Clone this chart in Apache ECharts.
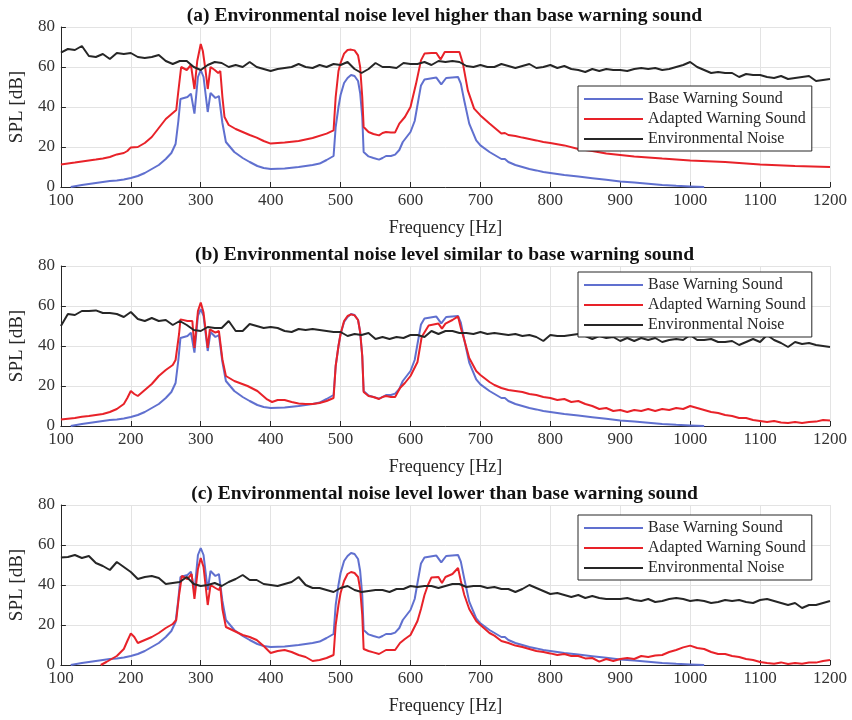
<!DOCTYPE html>
<html>
<head>
<meta charset="utf-8">
<script src="https://cdn.jsdelivr.net/npm/echarts@6/dist/echarts.min.js"></script>
<style>
  html, body { margin: 0; padding: 0; background: #fff; }
  #chart { width: 852px; height: 720px; }
</style>
</head>
<body>
<div id="chart"></div>
<script>
// panel titles
const titles = [
  '(a) Environmental noise level higher than base warning sound',
  '(b) Environmental noise level similar to base warning sound',
  '(c) Environmental noise level lower than base warning sound'
];
const legendNames = ['Base Warning Sound', 'Adapted Warning Sound', 'Environmental Noise'];

// base warning sound, same in every panel: [Hz, dB]
const base = [[114,0],[120,0.4],[130,1],[140,1.5],[150,2],[160,2.5],[170,3],[180,3.3],[190,3.8],[200,4.5],
  [210,5.5],[220,7],[230,9],[240,11],[250,14],[258,17],[264,21.5],[268,33],[271,44],[281,45],[286,46.7],
  [291,36.7],[296,55],[300,58.5],[304,55],[310,37.5],[314,47],[321,44.5],[326,45.5],[331,32],[336,22.5],
  [348,17.5],[360,14.5],[370,12.5],[381,10.5],[390,9.5],[400,9],[420,9.2],[440,10],[460,11],[470,11.7],
  [480,13.5],[490,15.5],[493,30],[497,40],[500,46],[505,52],[510,54.5],[515,56],[520,55.5],[525,53],
  [528,47],[531,35],[533,17.5],[540,15.3],[547,14.5],[555,13.7],[560,14.5],[565,15.5],[572,15.5],[578,16.2],
  [584,18.5],[589,22.5],[600,27.5],[606,33],[610,41],[615,50.8],[620,53.8],[637,54.7],[644,51.3],[651,54.5],
  [668,55],[672,51.7],[677,43],[684,31.7],[694,23.3],[700,20.8],[713,17.5],[730,14],[735,14],[740,12.5],
  [750,11],[760,10],[770,9],[780,8.3],[790,7.5],[800,7],[820,6],[840,5.2],[860,4.4],[880,3.6],[900,2.8],
  [920,2.2],[940,1.6],[960,1],[980,0.6],[1000,0.3],[1020,0]];

// adapted warning sound per panel: [Hz, dB]
const adaptedA = [[100,11.3],[110,11.8],[120,12.2],[130,12.7],[140,13.2],[150,13.7],[160,14.3],[170,15],
  [180,16.3],[190,17],[195,18],[200,19.8],[210,20],[220,22],[230,25],[240,29.5],[250,34],[260,37],[265,38.5],
  [268,48],[272,60],[280,58.5],[286,61],[291,49],[295,63],[300,71.5],[303,68],[307,58],[310,49],[314,60],
  [320,58.5],[325,57],[328,58],[331,45],[334,35],[340,31],[350,29],[360,27.5],[370,26],[380,24.7],[390,23],
  [400,21.7],[420,22.3],[440,23],[460,24.5],[480,26.7],[490,28.3],[493,45],[497,58],[500,62],[505,66.7],
  [510,68.5],[515,68.7],[520,68.3],[525,65.8],[528,60],[531,45],[533,30],[540,27.5],[547,26.5],[555,25.8],
  [560,27],[565,27.5],[572,27.3],[578,27.3],[584,31.7],[592,35],[600,40],[608,51.7],[615,63.3],[620,66.7],
  [630,67],[637,67],[643,63.8],[649,67.5],[660,67.5],[670,67.5],[675,61.7],[682,48.3],[691,39.2],[700,35.8],
  [713,31.7],[730,26.7],[735,27],[740,26],[750,25.5],[760,24.7],[770,24],[780,23.3],[790,22.5],[800,22],
  [820,20.8],[840,19],[860,18],[880,16.7],[900,16],[920,15.3],[940,14.8],[960,14.2],[980,13.8],[1000,13.3],
  [1050,12.5],[1100,11.3],[1150,10.5],[1200,10]];

const adaptedB = [[100,3.2],[110,3.6],[120,4],[130,4.6],[140,5],[150,5.5],[160,6],[170,7],[180,8.5],[190,11],
  [195,14],[200,17.5],[205,16],[210,15],[220,18],[230,21],[240,25],[250,28],[260,30.5],[264,33],[269,46],
  [271,53.3],[281,52.5],[288,52.5],[291,39],[296,57.5],[300,61.7],[304,56.7],[310,39],[313,48.3],[321,46.7],
  [326,47.5],[331,33.3],[336,25],[348,22.5],[367,20],[381,17.5],[395,13.3],[402,12],[410,13],[420,13],
  [430,12],[440,11.3],[450,11],[460,11],[470,11.5],[480,12.5],[490,14],[493,30],[497,40],[500,46],[505,52.5],
  [510,55],[515,55.8],[520,55.3],[525,53],[528,47],[531,35],[533,17],[540,15],[547,14.5],[555,13.5],[560,14.5],
  [565,15],[572,14.5],[578,14.5],[585,19],[592,21.5],[600,25],[610,32],[616,44.5],[626,50.3],[640,51.2],
  [645,48.7],[650,51.2],[660,53],[668,54.8],[672,49],[677,43],[684,34],[694,27.5],[700,25.5],[713,22],
  [720,20.5],[730,19],[740,18],[750,17.5],[760,17],[770,16],[780,15.5],[790,14.5],[800,14],[810,13],
  [820,13.5],[830,12],[840,12.5],[850,11],[860,10],[870,8.5],[880,9],[890,7.5],[900,8],[910,7],[920,8],
  [930,7.5],[940,8.5],[950,7.5],[960,8.5],[970,8],[980,9],[990,8.5],[1000,10],[1010,9],[1020,8],[1030,7],
  [1040,6.5],[1050,5.5],[1060,5],[1070,4],[1080,4],[1090,3],[1100,2.5],[1110,2],[1120,2.5],[1130,1.8],
  [1140,1.5],[1150,2],[1160,1.5],[1170,2],[1180,2.2],[1190,3],[1200,2.7]];

const adaptedC = [[157,0],[165,1.5],[170,2.5],[180,4.5],[190,8],[195,12],[200,15.8],[205,14],[210,11],
  [220,12.5],[230,14],[240,16],[250,18.5],[260,20.5],[265,22.5],[269,35],[273,44.5],[281,43],[287,45.5],
  [291,33],[296,48],[300,53.5],[304,49],[310,30],[314,40],[321,38.5],[326,37.5],[328,39],[331,28],[336,19],
  [348,17],[360,15],[370,14],[380,12.5],[390,9.5],[400,6],[410,7],[420,7.5],[430,6.5],[440,5],[450,4],
  [460,2],[470,2.5],[480,3.5],[490,5],[493,20],[497,30],[500,36],[505,42],[510,45.5],[515,46.5],[520,46],
  [525,44],[528,38],[531,25],[533,8],[540,7],[547,6.3],[555,5.5],[560,6.5],[565,7.5],[572,7.5],[578,7.5],
  [585,11],[592,13],[600,15],[610,22],[615,28],[620,35],[625,40],[630,43.8],[640,44],[645,41],[650,44],
  [660,45.5],[668,48.5],[672,42],[677,35],[684,28],[694,22],[700,20],[713,16],[720,14.7],[730,12],
  [740,11],[750,9.7],[760,9],[770,8],[780,7],[790,6.5],[800,5.8],[810,5],[820,5.5],[830,4.5],[840,4.5],
  [850,3.3],[860,3.5],[870,1.7],[880,3],[890,2],[900,3],[910,3.5],[920,3],[930,4.5],[940,4],[950,4.7],
  [960,5],[970,6.5],[980,7.5],[990,8.8],[1000,9.7],[1010,8.5],[1020,8],[1030,6.5],[1040,5.5],[1050,5.5],
  [1060,4.5],[1070,4],[1080,3],[1090,2.5],[1100,1.5],[1110,1],[1120,0.6],[1130,1.3],[1140,0.5],[1150,1],
  [1160,0.6],[1170,1.2],[1180,1.2],[1190,2],[1200,2.5]];

// environmental noise, sampled every 10 Hz from 100 to 1200
const noiseA = [67.2,69,68.5,70.5,65.5,65,66.5,64,67,66.5,
  67,65,64.5,65,66,63,61.5,63,63,60,
  58.5,61,62.5,62,60,61,60,62.5,60,59,
  58,59,59.5,60,61.5,60,59.5,61,60,61.5,
  61,62.5,59,57,59,62,60,60,59.5,62,
  61.5,61.5,62.5,61,63,62.5,63,62.5,60.5,60,
  61,60,60,61.5,60.5,59.5,60.5,61.5,59.5,60,
  61,59.5,60.5,59,58.5,57.5,59,58,59,58.5,
  58.5,58,59,59.5,59,59.5,58.5,59,60,61,
  62.5,60,58.5,57,57.5,57,57,55,56.5,56,
  56,55,54.5,55.5,54,54.5,55,55.5,53,53.5,54];
const noiseB = [50,56,55.5,57.5,57.5,57.8,56.5,56.5,56,54.5,
  57,53.5,52.5,54,52.5,53,50.5,52.5,50.5,48,
  47.5,49.5,49,49,52.5,47.5,47.5,51,50,49,
  49.5,49,47.5,47,48.5,48,48.5,48,47.5,47,
  47,45,46,45.5,46.5,43.5,44.5,43.5,44.5,44,
  45.5,45.5,44.5,47.5,46,47.5,47.5,46.5,46.5,46,
  47,46,46.5,46,45.5,46,45,45.5,44.5,42.5,
  45.5,45,45,45.5,46,45,43.5,45,44,44.5,
  42.5,44,42.5,44,43,44,42,43,43.5,43,
  45.5,43,43,43.5,42,42,42.5,40.5,42,43.5,
  42,45.5,43,41.5,39.5,42,41,41.5,40.5,40,39.5];
const noiseC = [53.8,54,55,53.5,54.5,51,49.5,47.5,51.5,49,
  46.5,43,44,44.5,43.5,40.5,41,41.5,44,40.5,
  39.5,40,41,39.5,41.5,43,45,42.5,42.5,40.5,
  40,39.5,40.5,41.5,44,40,38.5,38.5,37.5,36.5,
  38.5,39.5,37.5,36.5,37,37.5,37.5,36.5,38,38,
  39.5,39,39.5,39.5,38.5,39.5,40.5,40.5,39,39.5,
  39.5,38.5,39,38,38,36.5,38,40,38.5,37,
  35.5,36,35,34,35,33.5,34.5,33.5,33,33,
  33,33.5,32.5,32,33,31.5,32,33,33.5,33,
  32,32.5,32,31,31.5,32.5,32,32.5,31.5,31,
  32.5,33,32,31,30,31,28.5,30,30,31,32];
const noiseFreq = noiseA.map((_, i) => 100 + 10 * i);

const adapted = [adaptedA, adaptedB, adaptedC];
const noise = [noiseA, noiseB, noiseC];

const FONT = '"Liberation Serif", "Times New Roman", serif';
const colors = { base: '#6070cf', adapted: '#e82229', noise: '#262626' };

const chart = echarts.init(document.getElementById('chart'));

const gridTops = [27, 266, 505];
const legendTops = [86, 272, 515];
const option = {
  animation: false,
  backgroundColor: '#fff',
  grid: [], xAxis: [], yAxis: [], series: [], legend: [], graphic: []
};

for (let p = 0; p < 3; p++) {
  option.grid.push({ left: 59, top: gridTops[p], width: 771, height: 160 });

  option.xAxis.push({
    gridIndex: p, type: 'value', min: 100, max: 1200, interval: 100,
    name: 'Frequency [Hz]', nameLocation: 'middle', nameGap: 32,
    nameTextStyle: { fontFamily: FONT, fontSize: 18, color: '#262626' },
    axisLine: { show: true, lineStyle: { color: '#262626', width: 1 } },
    axisTick: { show: true, inside: true, length: 5, lineStyle: { color: '#262626' } },
    axisLabel: { fontFamily: FONT, fontSize: 17, color: '#333', margin: 5, formatter: v => String(v) },
    splitLine: { show: true, lineStyle: { color: '#e3e3e3', width: 1 } }
  });
  option.yAxis.push({
    gridIndex: p, type: 'value', min: 0, max: 80, interval: 20,
    name: 'SPL [dB]', nameLocation: 'middle', nameGap: 26,
    nameTextStyle: { fontFamily: FONT, fontSize: 19, color: '#262626' },
    axisLine: { show: true, lineStyle: { color: '#262626', width: 1 } },
    axisTick: { show: true, inside: true, length: 5, lineStyle: { color: '#262626' } },
    axisLabel: { fontFamily: FONT, fontSize: 17, color: '#333', margin: 6 },
    splitLine: { show: true, lineStyle: { color: '#e3e3e3', width: 1 } }
  });

  const lineSeries = (name, data, color) => ({
    name, type: 'line', xAxisIndex: p, yAxisIndex: p, data,
    symbol: 'none', smooth: false,
    lineStyle: { color, width: 2 }, itemStyle: { color }
  });
  option.series.push(lineSeries(legendNames[0], base, colors.base));
  option.series.push(lineSeries(legendNames[1], adapted[p], colors.adapted));
  option.series.push(lineSeries(legendNames[2], noiseFreq.map((f, i) => [f, noise[p][i]]), colors.noise));

  option.legend.push({
    data: legendNames, orient: 'vertical', left: 578, top: legendTops[p],
    icon: 'rect', itemWidth: 59, itemHeight: 2, itemGap: 4,
    padding: [5, 6, 4, 6],
    borderColor: '#262626', borderWidth: 1, backgroundColor: '#fff',
    textStyle: { fontFamily: FONT, fontSize: 16, color: '#262626' },
    selectedMode: false
  });

  option.graphic.push({
    type: 'text', x: 444.5, y: gridTops[p] - 11.5,
    style: {
      text: titles[p], font: 'bold 19.5px ' + FONT, fill: '#111',
      textAlign: 'center', textVerticalAlign: 'middle'
    }
  });
}

chart.setOption(option);
</script>
</body>
</html>
